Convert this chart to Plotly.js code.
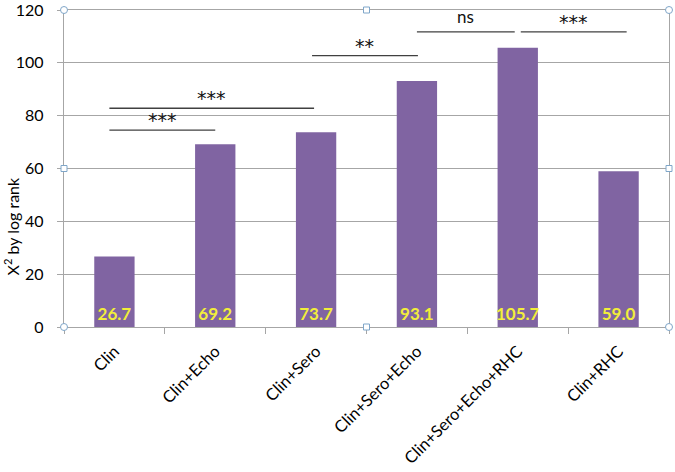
<!DOCTYPE html>
<html>
<head>
<meta charset="utf-8">
<script src="https://cdn.plot.ly/plotly-3.0.1.min.js"></script>
<style>html,body{margin:0;padding:0;background:#fff;}#chart{width:675px;height:472px;}</style>
</head>
<body>
<div id="chart"></div>
<script>
const categories = ["Clin", "Clin+Echo", "Clin+Sero", "Clin+Sero+Echo", "Clin+Sero+Echo+RHC", "Clin+RHC"];
const chiSquare = [26.7, 69.2, 73.7, 93.1, 105.7, 59.0];
const valueLabels = ["26.7", "69.2", "73.7", "93.1", "105.7", "59.0"];
const yTicks = [0, 20, 40, 60, 80, 100, 120];

// significance comparisons (category index from/to, bracket level, label)
const sigFrom = [-0.05, -0.05, 1.96, 3.0, 4.03];
const sigTo = [1.0, 1.98, 3.01, 3.97, 5.08];
const sigLevel = [74.5, 82.8, 102.7, 111.7, 111.7];
const sigLabel = ["***", "***", "**", "ns", "***"];

const purple = "#8064A2";
const gridCol = "#A6A6A6";
const fontFam = "Lato, 'Open Sans', sans-serif";

const shapes = [];
const annotations = [];
for (let i = 0; i < sigFrom.length; i++) {
  const isNs = sigLabel[i] === "ns";
  shapes.push({type: "line", xref: "x", yref: "y", x0: sigFrom[i], x1: sigTo[i], y0: sigLevel[i], y1: sigLevel[i],
    line: {color: "#404040", width: 1.3}});
  annotations.push({xref: "x", yref: "y", x: (sigFrom[i] + sigTo[i]) / 2, y: sigLevel[i],
    yshift: isNs ? 3 : -3,
    text: sigLabel[i], showarrow: false, yanchor: "bottom", xanchor: "center",
    font: {family: isNs ? fontFam : "DejaVu Sans, sans-serif", size: isNs ? 17 : 19, color: "#111"}});
}
// Y axis title
annotations.push({xref: "paper", yref: "paper", x: -0.086, y: 0.317, xanchor: "center", yanchor: "middle",
  textangle: -90, showarrow: false,
  text: "Χ<sup>2</sup> by log rank", font: {family: fontFam, size: 16, color: "#000"}});

// selection handles around the plot area
const handles = [
  [0, 0, "circle"], [1, 0, "circle"], [0, 1, "circle"], [1, 1, "circle"],
  [0.5, 0, "rect"], [0.5, 1, "rect"], [0, 0.5, "rect"], [1, 0.5, "rect"]
];
handles.forEach(h => {
  const r = h[2] === "circle" ? 3.5 : 3;
  shapes.push({type: h[2], xref: "paper", yref: "paper", xsizemode: "pixel", ysizemode: "pixel",
    xanchor: h[0], yanchor: h[1], x0: -r, x1: r, y0: -r, y1: r,
    fillcolor: "#FFFFFF", line: {color: "#7FA6C9", width: 1}});
});

const trace = {
  type: "bar",
  x: categories,
  y: chiSquare,
  text: valueLabels,
  textposition: "inside",
  insidetextanchor: "start",
  textangle: 0,
  constraintext: "none",
  textfont: {family: "'Liberation Sans Narrow', Lato, sans-serif", size: 17, color: "#F2EE3A", weight: "bold"},
  marker: {color: purple, line: {width: 0}},
  hoverinfo: "none"
};

const layout = {
  width: 675, height: 472,
  margin: {l: 64, r: 6, t: 10, b: 145},
  paper_bgcolor: "#fff", plot_bgcolor: "#fff",
  bargap: 0.6,
  showlegend: false,
  xaxis: {
    type: "category",
    tickangle: -45,
    ticks: "outside", tickson: "boundaries", ticklen: 6, tickcolor: gridCol,
    showline: true, linecolor: gridCol, linewidth: 1.3, mirror: true,
    tickfont: {family: fontFam, size: 16.5, color: "#000"},
    ticklabelstandoff: 7,
    showgrid: false
  },
  yaxis: {
    range: [0, 120],
    tickvals: yTicks,
    ticks: "outside", ticklen: 6, tickcolor: gridCol,
    showline: true, linecolor: gridCol, linewidth: 1.3, mirror: true,
    showgrid: true, gridcolor: gridCol, gridwidth: 1.2,
    zeroline: false,
    tickfont: {family: fontFam, size: 16, color: "#000"},
    ticklabelstandoff: 10,
    ticklabeloverflow: "allow"
  },
  shapes: shapes,
  annotations: annotations,
  font: {family: fontFam}
};

Plotly.newPlot("chart", [trace], layout, {displayModeBar: false, staticPlot: true});
</script>
</body>
</html>
